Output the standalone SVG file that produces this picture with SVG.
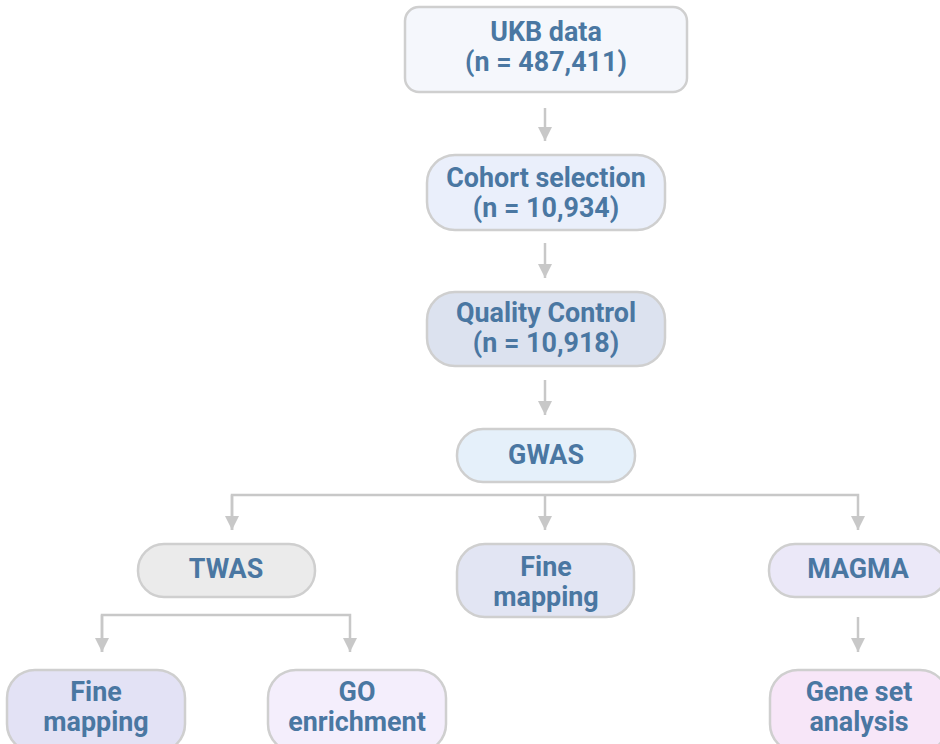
<svg xmlns="http://www.w3.org/2000/svg" width="940" height="744" viewBox="0 0 940 744">
<defs>
<style>
.box{stroke:#cfcfcf;stroke-width:2.5}
.t{font-family:Roboto,"Liberation Sans",sans-serif;font-weight:700;font-size:28px;fill:#4a77a2;text-anchor:middle}
.c{fill:none;stroke:#c8c8c8;stroke-width:2.5}
</style>
<marker id="ah" markerUnits="userSpaceOnUse" markerWidth="16" markerHeight="14" refX="14" refY="7" orient="auto">
<path d="M0,0 L14,7 L0,14 Z" fill="#c8c8c8"/>
</marker>
</defs>
<rect width="940" height="744" fill="#ffffff"/>
<g id="connectors">
<path class="c" d="M545,108 V141" marker-end="url(#ah)"/>
<path class="c" d="M545,243 V278" marker-end="url(#ah)"/>
<path class="c" d="M545,380 V415" marker-end="url(#ah)"/>
<path class="c" d="M232,530 V495 H858 V530" marker-end="url(#ah)"/>
<path class="c" d="M232,495 V530" marker-end="url(#ah)"/>
<path class="c" d="M545,495 V530" marker-end="url(#ah)"/>
<path class="c" d="M102,652 V615 H350 V652" marker-end="url(#ah)"/>
<path class="c" d="M102,615 V652" marker-end="url(#ah)"/>
<path class="c" d="M858,617 V652" marker-end="url(#ah)"/>
</g>
<g id="ukb">
<rect class="box" x="405" y="7" width="282" height="85" rx="14" fill="#f5f7fc"/>
<text class="t" transform="translate(546,41) scale(0.96,1)">UKB data</text>
<text class="t" transform="translate(546,71) scale(0.96,1)">(n = 487,411)</text>
</g>
<g id="cohort">
<rect class="box" x="427" y="155" width="238" height="75" rx="28" fill="#eaeffb"/>
<text class="t" transform="translate(546,187) scale(0.96,1)">Cohort selection</text>
<text class="t" transform="translate(546,217) scale(0.96,1)">(n = 10,934)</text>
</g>
<g id="qc">
<rect class="box" x="427" y="292" width="238" height="74" rx="28" fill="#dce2ef"/>
<text class="t" transform="translate(546,322) scale(0.96,1)">Quality Control</text>
<text class="t" transform="translate(546,352) scale(0.96,1)">(n = 10,918)</text>
</g>
<g id="gwas">
<rect class="box" x="457" y="429" width="178" height="53" rx="26" fill="#e5f0fa"/>
<text class="t" transform="translate(546,464) scale(0.96,1)">GWAS</text>
</g>
<g id="twas">
<rect class="box" x="138" y="544" width="177" height="53" rx="26" fill="#ebebeb"/>
<text class="t" transform="translate(226,578) scale(0.96,1)">TWAS</text>
</g>
<g id="finemap-mid">
<rect class="box" x="457" y="544" width="177" height="73" rx="28" fill="#e2e5f3"/>
<text class="t" transform="translate(546,576) scale(0.96,1)">Fine</text>
<text class="t" transform="translate(546,606) scale(0.96,1)">mapping</text>
</g>
<g id="magma">
<rect class="box" x="769" y="544" width="178" height="53" rx="26" fill="#ebe8f8"/>
<text class="t" transform="translate(858,578) scale(0.96,1)">MAGMA</text>
</g>
<g id="finemap-bottom">
<rect class="box" x="7" y="670" width="178" height="82" rx="28" fill="#e3e2f5"/>
<text class="t" transform="translate(96,701) scale(0.96,1)">Fine</text>
<text class="t" transform="translate(96,731) scale(0.96,1)">mapping</text>
</g>
<g id="go">
<rect class="box" x="268" y="670" width="178" height="82" rx="28" fill="#f4eefc"/>
<text class="t" transform="translate(357,701) scale(0.96,1)">GO</text>
<text class="t" transform="translate(357,731) scale(0.96,1)">enrichment</text>
</g>
<g id="geneset">
<rect class="box" x="770" y="670" width="178" height="82" rx="28" fill="#f7e6f8"/>
<text class="t" transform="translate(859,701) scale(0.96,1)">Gene set</text>
<text class="t" transform="translate(859,731) scale(0.96,1)">analysis</text>
</g>
</svg>
